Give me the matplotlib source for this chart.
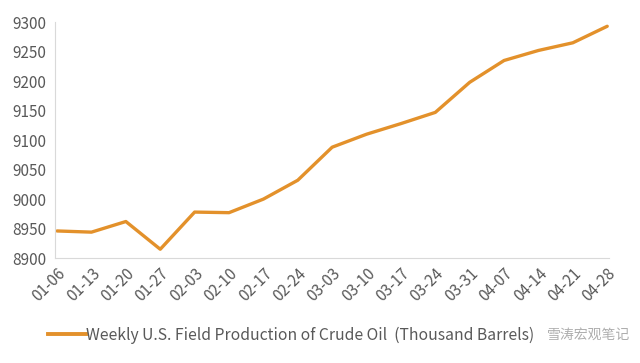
import matplotlib
matplotlib.use("Agg")
import matplotlib.pyplot as plt
from matplotlib.lines import Line2D

plt.rcParams['font.family'] = ['Noto Sans CJK SC', 'DejaVu Sans']

# 周度数据
weeks = ['01-06', '01-13', '01-20', '01-27', '02-03', '02-10', '02-17', '02-24',
         '03-03', '03-10', '03-17', '03-24', '03-31', '04-07', '04-14', '04-21', '04-28']
production = [8946, 8944, 8962, 8915, 8978, 8977, 9000, 9032,
              9088, 9110, 9128, 9147, 9198, 9235, 9252, 9265, 9293]
yticks = [8900, 8950, 9000, 9050, 9100, 9150, 9200, 9250, 9300]

line_color = '#E3912B'
text_color = '#595959'

fig = plt.figure(figsize=(6.4, 3.63), dpi=100)
ax = fig.add_axes([0.086, 0.289, 0.866, 0.650])

x = range(len(weeks))
ax.plot(x, production, color=line_color, linewidth=2.4, solid_capstyle='round')

ax.set_xlim(-0.06, len(weeks) - 1 + 0.06)
ax.set_ylim(8900, 9300)
ax.set_yticks(yticks)
ax.set_xticks(list(x))
ax.set_xticklabels(weeks, rotation=45, ha='right', rotation_mode='anchor')

for s in ['top', 'right']:
    ax.spines[s].set_visible(False)
for s in ['left', 'bottom']:
    ax.spines[s].set_color('#D9D9D9')
    ax.spines[s].set_linewidth(0.8)
ax.tick_params(axis='both', length=0, colors=text_color, labelsize=11)
ax.tick_params(axis='y', pad=6)
ax.tick_params(axis='x', pad=5)

# 图例
handle = Line2D([], [], color=line_color, linewidth=2.8)
fig.legend([handle], ['Weekly U.S. Field Production of Crude Oil  (Thousand Barrels)'],
           loc='center left', bbox_to_anchor=(0.075, 0.077), frameon=False,
           fontsize=11.3, handlelength=2.4, handletextpad=0.05,
           labelcolor=text_color, borderaxespad=0, borderpad=0)

# 水印
fig.text(0.985, 0.077, '雪涛宏观笔记', fontsize=10, color='#9A9A9A', alpha=0.8,
         ha='right', va='center')

fig.savefig('out.png', dpi=100)
